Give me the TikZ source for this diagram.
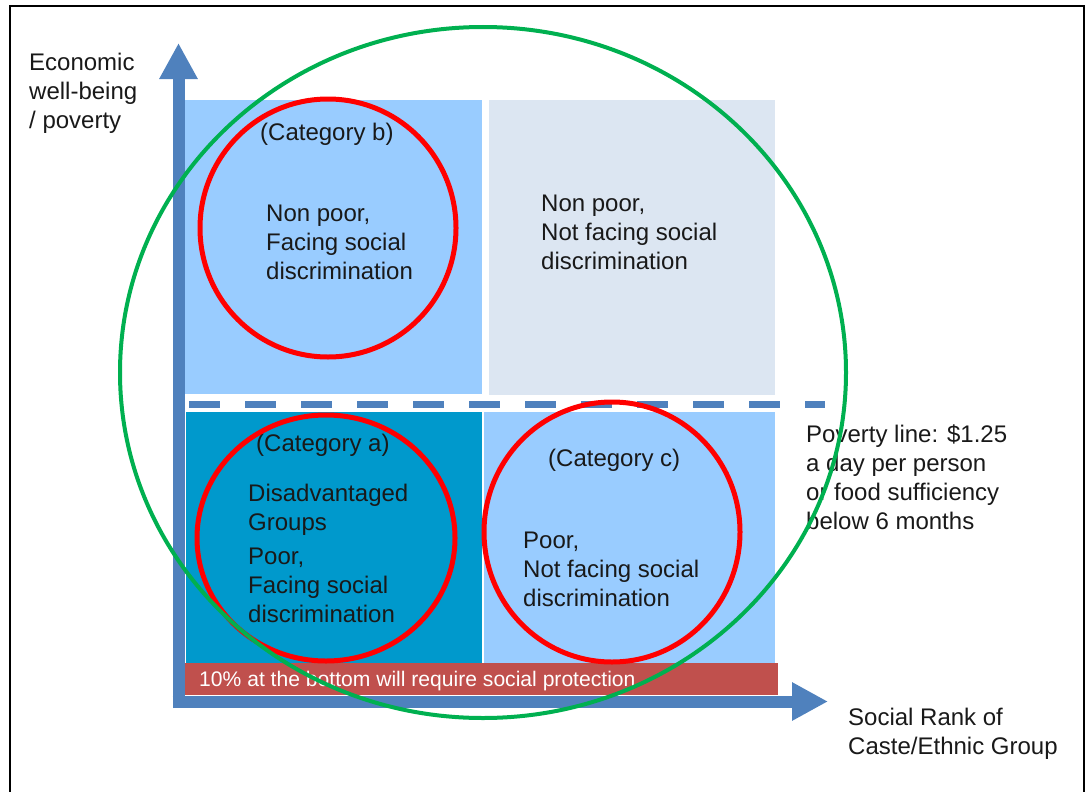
\documentclass[tikz,border=0pt]{standalone}
\usepackage{amsmath}
\usepackage{tikz}
\usepackage{xcolor}
\usepackage{fontspec}
\setmainfont{Liberation Sans}
\usetikzlibrary{arrows.meta,shapes.geometric}

\definecolor{axisblue}{HTML}{4F81BD}
\definecolor{lightblue}{HTML}{99CCFF}
\definecolor{paleblue}{HTML}{DCE6F2}
\definecolor{tealblue}{HTML}{0099CC}
\definecolor{barred}{HTML}{C0504D}
\definecolor{ringgreen}{HTML}{00B050}

\begin{document}
\begin{tikzpicture}[x=1pt, y=-1pt,
  cell/.style={rectangle, inner sep=0pt, anchor=north west},
  txt/.style={anchor=north west, inner sep=0pt, align=left, text=black!90, font=\fontsize{24}{29}\selectfont},
  ring/.style={ellipse, draw=red, line width=5pt, inner sep=0pt},
  axis/.style={draw=axisblue, line width=12pt, -{Triangle[length=36pt,width=36pt]}}]
\useasboundingbox (0,0) rectangle (1089,792);
\draw[line width=2pt] (10,792) -- (10,6) -- (1084,6) -- (1084,792);

% quadrants
\node (catb) [cell, fill=lightblue, minimum width=298pt, minimum height=294pt] at (184,100) {};
\node (rich) [cell, fill=paleblue, minimum width=286pt, minimum height=295pt] at (489,100) {};
\node (cata) [cell, fill=tealblue, minimum width=296pt, minimum height=251pt] at (186,412) {};
\node (catc) [cell, fill=lightblue, minimum width=291pt, minimum height=251pt] at (484,412) {};
\node (bar) [cell, fill=barred, minimum width=593pt, minimum height=32pt] at (185,663) {};

% poverty line
\coordinate (povl) at (189,404.5);
\coordinate (povr) at (825,404.5);
\draw[axisblue, line width=7.5pt, dash pattern=on 31pt off 25pt] (povl) -- (povr);

% axes
\coordinate (ybase) at (178.5,708);
\coordinate (ytip) at (178.5,43);
\coordinate (xbase) at (172.5,701.5);
\coordinate (xtip) at (828,701.5);
\draw[axis] (ybase) -- (ytip);
\draw[axis] (xbase) -- (xtip);

% texts
\node (ylab) [txt] at (29,53) {Economic\\well-being\\/ poverty};
\node (xlab) [txt] at (848,708) {Social Rank of\\Caste/Ethnic Group};
\node (povtxt) [txt] at (806,425) {Poverty line: \$1.25\\a day per person\\or food sufficiency\\below 6 months};
\node (tb) [txt] at (260,123) {(Category b)};
\node (tbtxt) [txt] at (266,205) {Non poor,\\Facing social\\discrimination};
\node (richtxt) [txt] at (541,195) {Non poor,\\Not facing social\\discrimination};
\node (ta) [txt] at (256,434) {(Category a)};
\node (dis) [txt] at (248,484) {Disadvantaged\\Groups};
\node (tatxt) [txt] at (248,548) {Poor,\\Facing social\\discrimination};
\node (tc) [txt] at (548,449) {(Category c)};
\node (tctxt) [txt] at (523,532) {Poor,\\Not facing social\\discrimination};
\node (bartxt) [txt, text=white, font=\fontsize{21.1}{25}\selectfont] at (199,671) {10\% at the bottom will require social protection};

% circles
\node (ringb) [ring, minimum width=256pt, minimum height=258pt] at (328,228) {};
\node (ringa) [ring, minimum width=258pt, minimum height=246pt] at (326,538) {};
\node (ringc) [ring, minimum width=256pt, minimum height=260pt] at (612,532) {};
\node (all) [ellipse, draw=ringgreen, line width=4pt, inner sep=0pt, minimum width=726pt, minimum height=691pt] at (483,372.5) {};
\end{tikzpicture}
\end{document}
